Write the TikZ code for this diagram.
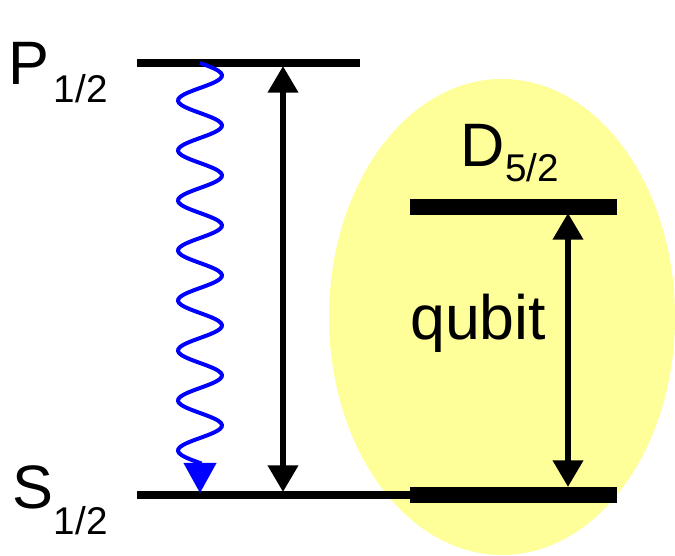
\documentclass[tikz,border=0pt]{standalone}
\usepackage{fontspec}
\setmainfont{Liberation Sans}
\usetikzlibrary{arrows.meta}
\definecolor{qubityellow}{RGB}{255,255,153}
% level name: letter, subscript, drop of subscript, kern before it
\newcommand{\levelname}[4]{\fontsize{46}{46}\selectfont #1\kern#4\raisebox{-#3}{\fontsize{29}{29}\selectfont #2}}

\begin{document}
\begin{tikzpicture}[x=0.75pt, y=0.75pt,
  level/.style={line width=5.8pt},
  boldlevel/.style={line width=12pt},
  transition/.style={line width=4.5pt, {Triangle[length=20pt,width=22pt]}-{Triangle[length=20pt,width=22pt]}},
  photon/.style={blue, line width=3pt, -{Triangle[length=22.5pt,width=24pt]}},
  every node/.append style={inner sep=0pt, anchor=base west}]
  \clip (0,0) rectangle (675,556);
  % qubit
  \fill[qubityellow] (502,239) ellipse (173 and 238);
  % levels
  \coordinate (P-w) at (137,493); \coordinate (P-e) at (360,493);
  \coordinate (S-w) at (137,61);  \coordinate (S-m) at (410,61); \coordinate (S-e) at (617,61);
  \coordinate (D-w) at (410,349); \coordinate (D-e) at (617,349);
  \draw[level] (P-w) -- (P-e);
  \draw[level] (S-w) -- (S-m);
  \draw[boldlevel] (S-m) -- (S-e);
  \draw[boldlevel] (D-w) -- (D-e);
  \node (P) at (8,471) {\levelname{P}{1/2}{13.5pt}{3.5pt}};
  \node (S) at (12,47) {\levelname{S}{1/2}{19.5pt}{0.5pt}};
  \node (D) at (460,389) {\levelname{D}{5/2}{11.25pt}{0.5pt}};
  % transitions
  \coordinate (decay-end) at (200,63);
  \coordinate (pump-top) at (283,490);  \coordinate (pump-end) at (283,64);
  \coordinate (qb-top) at (568,343);    \coordinate (qb-end) at (568,69);
  \draw[photon] plot[domain=0:400, samples=201, smooth] ({200+22*sin(7.2*\x)},{493-\x}) -- (decay-end);
  \draw[transition] (pump-top) -- (pump-end);
  \draw[transition] (qb-top) -- (qb-end);
  \node[font=\fontsize{47}{47}\selectfont] (qubit) at (410,216) {qubit};
\end{tikzpicture}
\end{document}
